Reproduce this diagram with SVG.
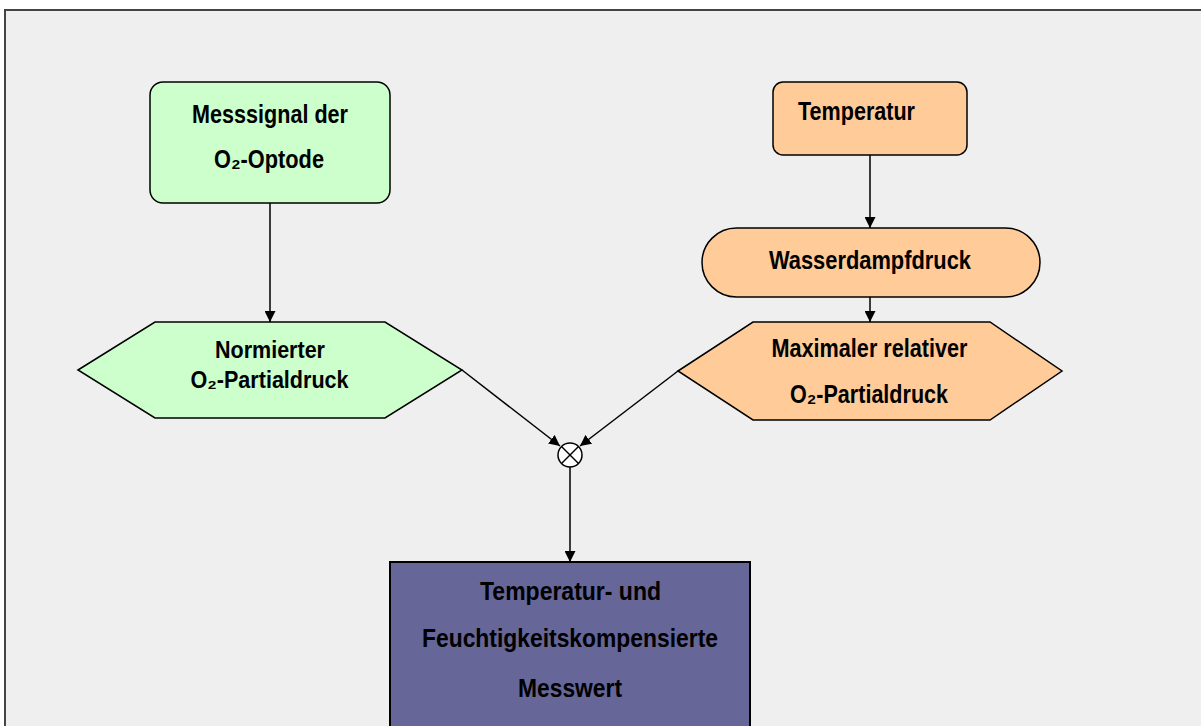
<svg xmlns="http://www.w3.org/2000/svg" width="1201" height="726" viewBox="0 0 1201 726">
<style>
.t{font-family:"Liberation Sans",Arial,sans-serif;font-weight:bold;font-size:25px;fill:#000;text-anchor:middle}
.tc{font-size:23.5px}
.sh{stroke:#000;stroke-width:1.5}
.ln{stroke:#000;stroke-width:1.5;fill:none}
</style>
<defs>
<marker id="ah" viewBox="0 0 10 10" refX="10" refY="5" markerWidth="11" markerHeight="11" markerUnits="userSpaceOnUse" orient="auto">
<path d="M0,0 L10,5 L0,10 z" fill="#000"/>
</marker>
</defs>
<rect x="0" y="0" width="1201" height="726" fill="#ffffff"/>
<rect x="5" y="10" width="1200" height="720" fill="#efefef" stroke="#444" stroke-width="2"/>
<g id="connectors">
<line class="ln" x1="270" y1="203" x2="270" y2="322" marker-end="url(#ah)"/>
<line class="ln" x1="870" y1="155" x2="870" y2="228" marker-end="url(#ah)"/>
<line class="ln" x1="870" y1="297" x2="870" y2="322" marker-end="url(#ah)"/>
<line class="ln" x1="462" y1="370" x2="560" y2="446" marker-end="url(#ah)"/>
<line class="ln" x1="678" y1="371" x2="580" y2="446" marker-end="url(#ah)"/>
<line class="ln" x1="570" y1="467" x2="570" y2="562" marker-end="url(#ah)"/>
</g>
<g id="n_messsignal">
<rect class="sh" x="150" y="82" width="240" height="121" rx="13" fill="#ccffcc"/>
<text class="t" x="270" y="122.5" textLength="156" lengthAdjust="spacingAndGlyphs">Messsignal der</text>
<text class="t" x="269" y="168" textLength="110" lengthAdjust="spacingAndGlyphs">O₂-Optode</text>
</g>
<g id="n_temperatur">
<rect class="sh" x="773" y="82" width="194" height="73" rx="10" fill="#ffcc99"/>
<text class="t" x="856.5" y="120" textLength="117" lengthAdjust="spacingAndGlyphs">Temperatur</text>
</g>
<g id="n_wasserdampf">
<rect class="sh" x="702" y="228" width="338" height="69" rx="34.5" fill="#ffcc99"/>
<text class="t" x="870" y="269" textLength="202" lengthAdjust="spacingAndGlyphs">Wasserdampfdruck</text>
</g>
<g id="n_normiert">
<polygon class="sh" points="78,370 155,322 385,322 462,370 385,418 155,418" fill="#ccffcc"/>
<text class="t tc" x="270" y="358" textLength="110" lengthAdjust="spacingAndGlyphs">Normierter</text>
<text class="t tc" x="269.5" y="388" textLength="158" lengthAdjust="spacingAndGlyphs">O₂-Partialdruck</text>
</g>
<g id="n_maximal">
<polygon class="sh" points="678,371 753,322 990,322 1062,371 990,420 753,420" fill="#ffcc99"/>
<text class="t" x="869.5" y="357" textLength="196" lengthAdjust="spacingAndGlyphs">Maximaler relativer</text>
<text class="t" x="869" y="403" textLength="158" lengthAdjust="spacingAndGlyphs">O₂-Partialdruck</text>
</g>
<g id="n_mult">
<circle class="sh" cx="570" cy="455" r="12" fill="#fff"/>
<line class="sh" x1="561.5" y1="446.5" x2="578.5" y2="463.5"/>
<line class="sh" x1="578.5" y1="446.5" x2="561.5" y2="463.5"/>
</g>
<g id="n_result">
<rect x="390" y="562" width="360" height="180" fill="#666699" stroke="#000" stroke-width="2"/>
<text class="t" x="570.5" y="600" textLength="181" lengthAdjust="spacingAndGlyphs">Temperatur- und</text>
<text class="t" x="570" y="647" textLength="296" lengthAdjust="spacingAndGlyphs">Feuchtigkeitskompensierte</text>
<text class="t" x="570" y="697" textLength="104" lengthAdjust="spacingAndGlyphs">Messwert</text>
</g>
</svg>
